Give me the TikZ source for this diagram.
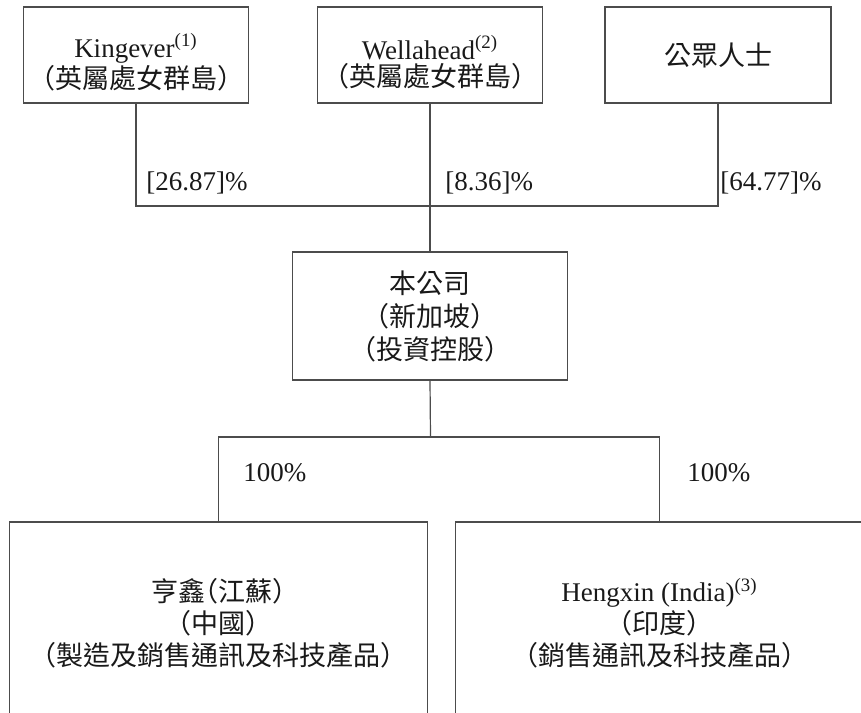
\documentclass[tikz,border=0pt]{standalone}
\usepackage{fontspec}
\setmainfont{Liberation Serif}
\newfontfamily\cjk{Noto Sans CJK TC}[RawFeature=+halt]
\usetikzlibrary{positioning}

\tikzset{
  holder/.style={draw=black!70, line width=0.6pt, align=center, inner sep=0pt,
    text=black!90, font=\fontsize{13.5}{15.5}\selectfont},
  topbox/.style={holder, minimum width=112.5pt, minimum height=48pt, font=\fontsize{13.5}{13.5}\selectfont},
  link/.style={draw=black!70, line width=0.6pt},
  pct/.style={anchor=west, inner sep=0pt, text=black!90, font=\fontsize{13.5}{15.5}\selectfont}
}
\newcommand{\lowstrut}{\rule{0pt}{19pt}}

\begin{document}
\begin{tikzpicture}[x=0.5pt, y=-0.5pt, on grid]
   \useasboundingbox (0,0) rectangle (861,712);
   % shareholders
   \node[topbox] (wellahead) at (430,55) {\lowstrut Wellahead\textsuperscript{(2)}\\{\cjk （英屬處女群島）}};
   \node[topbox] (kingever) [left=147pt of wellahead] {\lowstrut Kingever\textsuperscript{(1)}\\{\cjk （英屬處女群島）}};
   \node[topbox, minimum width=113pt] (public) [right=144pt of wellahead] {\cjk 公眾人士};
   % company
   \node[holder, minimum width=137.5pt, minimum height=64pt, font=\fontsize{13.5}{16.5}\selectfont] (company) [below=130.5pt of wellahead]
        {\cjk 本公司\\\cjk （新加坡）\\\cjk （投資控股）};
   % subsidiaries
   \node[holder, minimum width=209pt, minimum height=101pt, font=\fontsize{13.5}{16}\selectfont] (jiangsu) [below left=153.5pt and 105.75pt of company]
        {\cjk 亨鑫（江蘇）\\\cjk （中國）\\\cjk （製造及銷售通訊及科技產品）};
   \node[holder, minimum width=204pt, minimum height=101pt, font=\fontsize{13.5}{16}\selectfont] (india) [below right=153.5pt and 114.75pt of company]
        {Hengxin (India)\textsuperscript{(3)}\\\cjk （印度）\\\cjk （銷售通訊及科技產品）};

   \coordinate (bar) at (430,206);
   \coordinate (split) at (430.5,437);
   \draw[link] (kingever.south) |- (bar) -| (public.south);
   \draw[link] (wellahead.south) -- (company.north);
   \draw[link] (company.south) -- (split);
   \draw[link] (jiangsu.north) |- (split) -| (india.north);

   \node[pct] (kingpct) at (146,183) {[26.87]\%};
   \node[pct] (wellpct) at (445,183) {[8.36]\%};
   \node[pct] (publicpct) at (720,183) {[64.77]\%};
   \node[pct] (jiangsupct) at (243,473) {100\%};
   \node[pct] (indiapct) at (687,473) {100\%};
\end{tikzpicture}
\end{document}
